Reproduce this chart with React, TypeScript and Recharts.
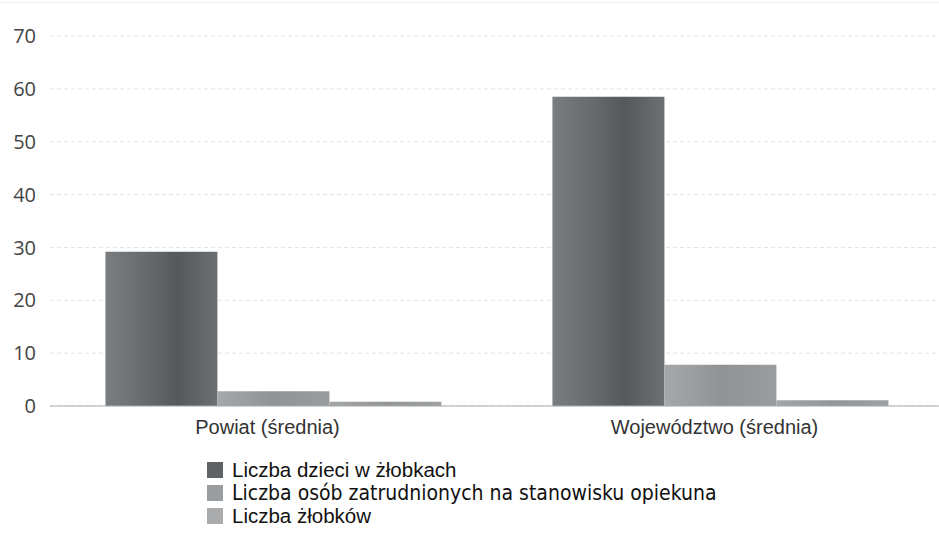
import React from "react";
import { BarChart, Bar, XAxis, YAxis, CartesianGrid } from "recharts";

const categories = ["Powiat (średnia)", "Województwo (średnia)"];
const dzieci = [29.2, 58.5];
const opiekunowie = [2.8, 7.8];
const zlobki = [0.8, 1.1];
const yTicks = [0, 10, 20, 30, 40, 50, 60, 70];
const seriesNames = [
  "Liczba dzieci w żłobkach",
  "Liczba osób zatrudnionych na stanowisku opiekuna",
  "Liczba żłobków",
];

const data = categories.map((c, i) => ({
  name: c,
  dzieci: dzieci[i],
  opiekunowie: opiekunowie[i],
  zlobki: zlobki[i],
}));

const legendColors = ["#5f6365", "#9a9d9f", "#a9abad"];

export default function App() {
  return (
    <div style={{ position: "absolute", left: 0, top: 0, width: 939, height: 534, background: "#fff", overflow: "hidden", fontFamily: "'Liberation Sans', Arial, sans-serif" }}>
      <div style={{ position: "absolute", left: 0, top: 2, width: 939, height: 1, background: "#eee" }} />
      <BarChart
        width={939}
        height={450}
        data={data}
        margin={{ top: 36, right: -5, left: 0, bottom: 0 }}
        barCategoryGap="12.4%"
        barGap={0}
        style={{ overflow: "hidden" }}
      >
        <defs>
          <linearGradient id="g1" x1="0" y1="0" x2="1" y2="0">
            <stop offset="0%" stopColor="#7a7e80" />
            <stop offset="35%" stopColor="#676b6d" />
            <stop offset="65%" stopColor="#56595b" />
            <stop offset="100%" stopColor="#6c7072" />
          </linearGradient>
          <linearGradient id="g2" x1="0" y1="0" x2="1" y2="0">
            <stop offset="0%" stopColor="#a6a9ab" />
            <stop offset="50%" stopColor="#909395" />
            <stop offset="100%" stopColor="#9a9d9f" />
          </linearGradient>
          <linearGradient id="g3" x1="0" y1="0" x2="1" y2="0">
            <stop offset="0%" stopColor="#a3a6a8" />
            <stop offset="50%" stopColor="#929597" />
            <stop offset="100%" stopColor="#9ea1a3" />
          </linearGradient>
        </defs>
        <CartesianGrid vertical={false} stroke="#e2e2e2" strokeDasharray="4 3" />
        <XAxis
          dataKey="name"
          tickLine={false}
          tickSize={0}
          tickMargin={14}
          height={44}
          axisLine={{ stroke: "#aaaaaa" }}
          tick={{ fill: "#333", fontSize: 20, dx: -6, fontFamily: "'Liberation Sans', Arial, sans-serif" }}
        />
        <YAxis
          domain={[0, 70]}
          ticks={yTicks}
          width={50}
          axisLine={false}
          tickLine={false}
          tickSize={0}
          tickMargin={14}
          tick={{ fill: "#444", fontSize: 20, fontFamily: "'Open Sans', 'DejaVu Sans', sans-serif" }}
        />
        <Bar dataKey="dzieci" name={seriesNames[0]} fill="url(#g1)" isAnimationActive={false} />
        <Bar dataKey="opiekunowie" name={seriesNames[1]} fill="url(#g2)" isAnimationActive={false} />
        <Bar dataKey="zlobki" name={seriesNames[2]} fill="url(#g3)" isAnimationActive={false} />
      </BarChart>
      <div style={{ position: "absolute", left: 207, top: 458, color: "#111" }}>
        {seriesNames.map((n, i) => (
          <div key={n} style={{ display: "flex", alignItems: "center", height: 23 }}>
            <div style={{ width: 16, height: 16, background: legendColors[i], marginRight: 9 }} />
            <span
              style={{
                fontSize: i === 1 ? 21 : 20.5,
                fontFamily: i === 1 ? "'Liberation Sans Narrow', 'DejaVu Sans Condensed', sans-serif" : "'Liberation Sans', Arial, sans-serif",
                whiteSpace: "nowrap",
              }}
            >
              {n}
            </span>
          </div>
        ))}
      </div>
    </div>
  );
}
